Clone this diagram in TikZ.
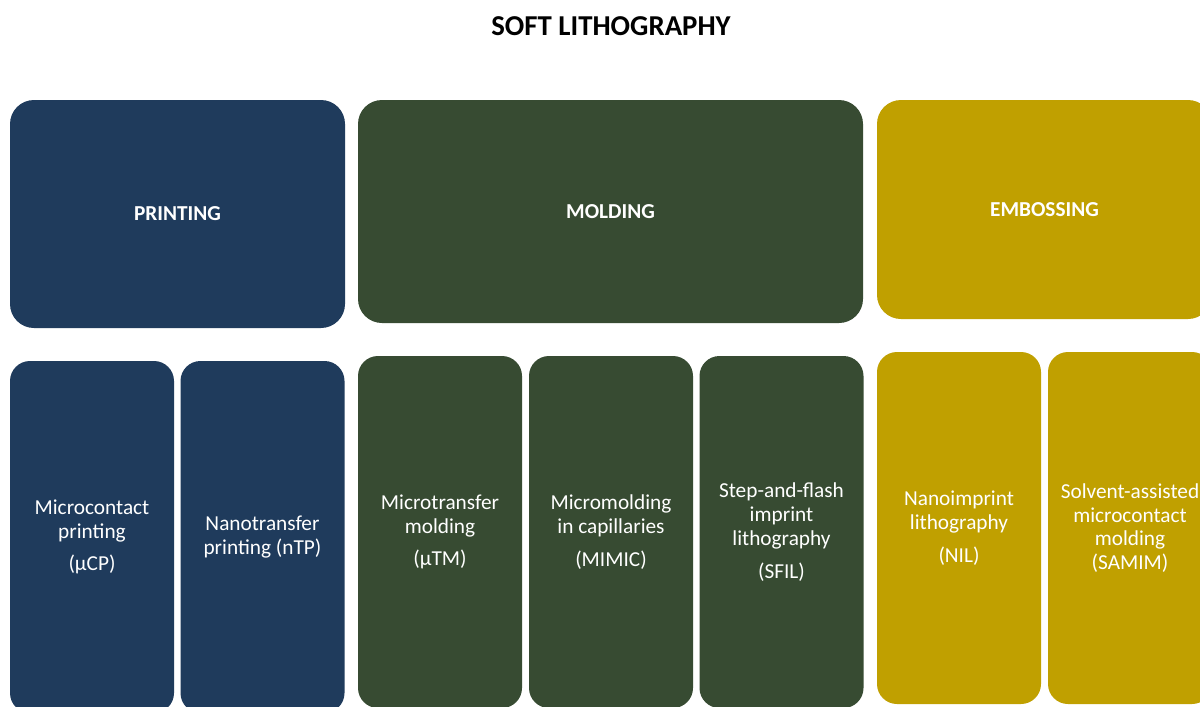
\documentclass[tikz,border=0pt]{standalone}
\usepackage{fontspec}
\setmainfont{Carlito}
\definecolor{cblue}{HTML}{1F3B5C}
\definecolor{cgreen}{HTML}{374B32}
\definecolor{cgold}{HTML}{C0A000}
\begin{document}
\begin{tikzpicture}[x=1pt,y=-1pt,
  topbox/.style={rectangle, draw=none, rounded corners=24pt, inner sep=0pt, text=white,
    font=\fontsize{21.3}{24}\selectfont\bfseries, align=center},
  subbox/.style={rectangle, draw=none, rounded corners=20pt, inner sep=0pt, text=white,
    font=\fontsize{21.3}{23.8}\selectfont, align=center, minimum width=164pt, minimum height=352pt},
  titletext/.style={font=\fontsize{28.8}{32}\selectfont\bfseries, text=black}]
\useasboundingbox (0,0) rectangle (1200,707);
\fill[white] (0,0) rectangle (1200,707);
\clip (0,0) rectangle (1200,707);
\node[titletext] (title) at (611,26) {SOFT LITHOGRAPHY};
% top boxes
\node[topbox, fill=cblue, minimum width=335pt, minimum height=228pt] (print) at (177.5,214) {PRINTING};
\node[topbox, fill=cgreen, minimum width=505pt, minimum height=223pt] (mold) at (610.5,211.5) {MOLDING};
\node[topbox, fill=cgold, minimum width=335pt, minimum height=219pt] (emb) at (1044.5,209.5) {EMBOSSING};
% sub boxes
\node[subbox, fill=cblue] (ucp) at (92,537) {Microcontact\\printing\\[9pt](µCP)};
\node[subbox, fill=cblue] (ntp) at (262.5,537) {Nanotransfer\\printing (nTP)};
\node[subbox, fill=cgreen] (utm) at (440,532) {Microtransfer\\molding\\[9pt](µTM)};
\node[subbox, fill=cgreen] (mimic) at (611,532) {Micromolding\\in capillaries\\[9pt](MIMIC)};
\node[subbox, fill=cgreen] (sfil) at (781.5,532) {Step-and-flash\\imprint\\lithography\\[9pt](SFIL)};
\node[subbox, fill=cgold] (nil) at (959,528) {Nanoimprint\\lithography\\[9pt](NIL)};
\node[subbox, fill=cgold] (samim) at (1130,528) {Solvent-assisted\\microcontact\\molding\\(SAMIM)};
\end{tikzpicture}
\end{document}
